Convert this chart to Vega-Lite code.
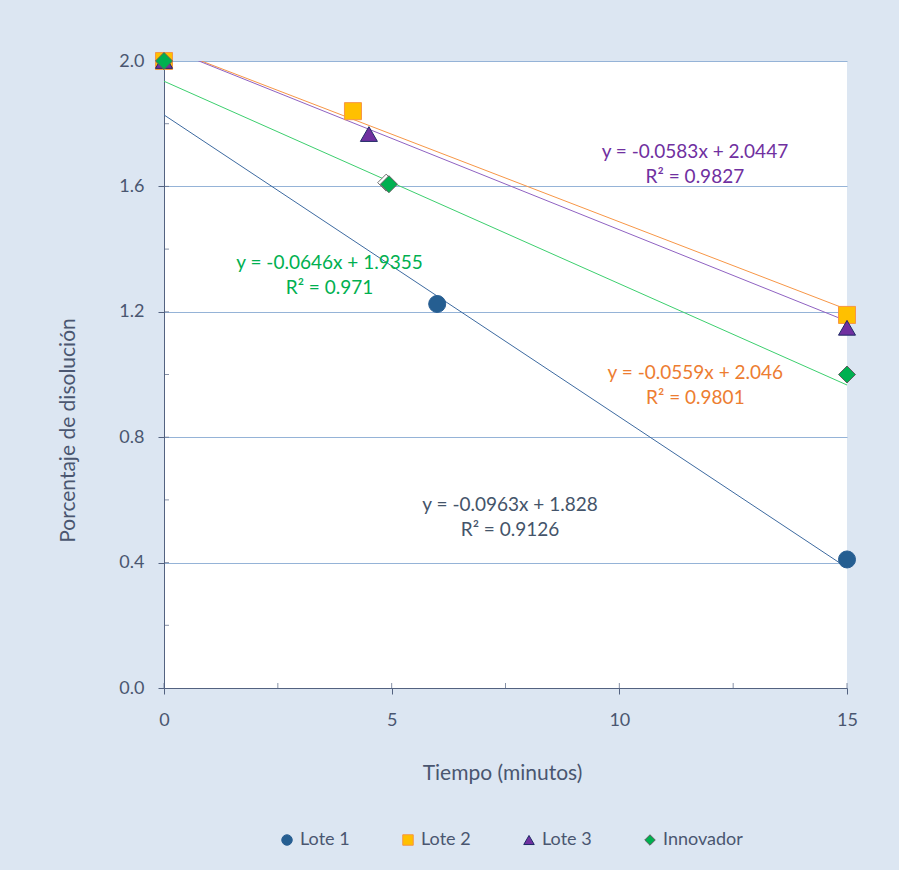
{
  "$schema": "https://vega.github.io/schema/vega-lite/v6.json",
  "width": 683,
  "height": 627,
  "autosize": {"type": "none"},
  "padding": {"left": 164, "top": 61, "right": 52, "bottom": 182},
  "background": "#dce6f2",
  "config": {
    "view": {"stroke": null, "fill": "#ffffff"},
    "font": "Lato",
    "axis": {
      "domainColor": "#536280",
      "tickColor": "#536280",
      "tickSize": 6,
      "labelFont": "Lato",
      "labelFontSize": 18,
      "labelColor": "#4a5670",
      "titleFont": "Lato",
      "titleFontSize": 21,
      "titleFontWeight": "normal",
      "titleColor": "#4a5670"
    },
    "axisX": {"grid": false, "labelPadding": 17, "labelFlush": false, "titleX": 338, "titleY": 85, "titleBaseline": "middle"},
    "axisY": {"grid": true, "gridColor": "#95b3d7", "gridWidth": 1, "labelPadding": 14, "titleX": -96, "titleY": 369, "titleAngle": -90, "titleAlign": "center", "titleBaseline": "middle"},
    "legend": {"padding": 0, "orient": "none", "legendX": 114, "legendY": 770, "direction": "horizontal", "symbolSize": 110, "symbolStrokeWidth": 1, "labelFontSize": 18, "labelFont": "Lato", "labelColor": "#4a5670", "labelOffset": 4, "columnPadding": 49}
  },
  "datasets": {
    "points": [
      {"series": "Lote 1", "x": 6, "y": 1.225},
      {"series": "Lote 1", "x": 15, "y": 0.41},
      {"series": "Lote 2", "x": 0, "y": 2.0},
      {"series": "Lote 2", "x": 4.15, "y": 1.84},
      {"series": "Lote 2", "x": 15, "y": 1.19},
      {"series": "Lote 3", "x": 0, "y": 2.0},
      {"series": "Lote 3", "x": 4.5, "y": 1.767},
      {"series": "Lote 3", "x": 15, "y": 1.149},
      {"series": "Innovador", "x": 0, "y": 2.0},
      {"series": "Innovador", "x": 4.94, "y": 1.607},
      {"series": "Innovador", "x": 15, "y": 1.0}
    ],
    "ghost": [
      {"x": 4.88, "y": 1.612}
    ],
    "trend": [
      {"series": "Lote 1", "x": 0, "y": 1.828},
      {"series": "Lote 1", "x": 15, "y": 0.3835},
      {"series": "Lote 2", "x": 0, "y": 2.046},
      {"series": "Lote 2", "x": 15, "y": 1.2075},
      {"series": "Lote 3", "x": 0, "y": 2.0447},
      {"series": "Lote 3", "x": 15, "y": 1.1702},
      {"series": "Innovador", "x": 0, "y": 1.9355},
      {"series": "Innovador", "x": 15, "y": 0.9665}
    ],
    "labels": [
      {"series": "Lote 3", "x": 11.66, "y": 1.71, "text": "y = -0.0583x + 2.0447"},
      {"series": "Lote 3", "x": 11.66, "y": 1.63, "text": "R² = 0.9827"},
      {"series": "Innovador", "x": 3.635, "y": 1.356, "text": "y = -0.0646x + 1.9355"},
      {"series": "Innovador", "x": 3.635, "y": 1.276, "text": "R² = 0.971"},
      {"series": "Lote 2", "x": 11.67, "y": 1.005, "text": "y = -0.0559x + 2.046"},
      {"series": "Lote 2", "x": 11.67, "y": 0.925, "text": "R² = 0.9801"},
      {"series": "Lote 1", "x": 7.6, "y": 0.584, "text": "y = -0.0963x + 1.828"},
      {"series": "Lote 1", "x": 7.6, "y": 0.504, "text": "R² = 0.9126"}
    ],
    "xticks": [{"x": 0}, {"x": 2.5}, {"x": 5}, {"x": 7.5}, {"x": 10}, {"x": 12.5}, {"x": 15}],
    "yticks": [{"y": 0.2}, {"y": 0.4}, {"y": 0.6}, {"y": 0.8}, {"y": 1.0}, {"y": 1.2}, {"y": 1.4}, {"y": 1.6}, {"y": 1.8}]
  },
  "layer": [
    {
      "data": {"name": "trend"},
      "mark": {"type": "line", "clip": true, "strokeWidth": 1},
      "encoding": {
        "x": {"field": "x", "type": "quantitative", "scale": {"domain": [0, 15], "nice": false, "zero": false}, "axis": {"title": "Tiempo (minutos)", "values": [0, 5, 10, 15]}},
        "y": {"field": "y", "type": "quantitative", "scale": {"domain": [0, 2], "nice": false, "zero": false}, "axis": {"title": "Porcentaje de disolución", "values": [0, 0.4, 0.8, 1.2, 1.6, 2.0], "format": ".1f"}},
        "color": {"field": "series", "type": "nominal", "scale": {"domain": ["Lote 1", "Lote 2", "Lote 3", "Innovador"], "range": ["#3d6aa0", "#f79646", "#8f62c2", "#3ccf6e"]}, "legend": null},
        "detail": {"field": "series"}
      }
    },
    {
      "data": {"name": "xticks"},
      "mark": {"type": "tick", "orient": "vertical", "size": 5, "thickness": 1, "yOffset": -2.5, "color": "#536280"},
      "encoding": {
        "x": {"field": "x", "type": "quantitative", "axis": {"title": "Tiempo (minutos)", "values": [0, 5, 10, 15]}},
        "y": {"datum": 0, "type": "quantitative", "axis": {"title": "Porcentaje de disolución", "values": [0, 0.4, 0.8, 1.2, 1.6, 2.0], "format": ".1f"}}
      }
    },
    {
      "data": {"name": "yticks"},
      "mark": {"type": "tick", "orient": "horizontal", "size": 5, "thickness": 1, "xOffset": 2.5, "color": "#536280"},
      "encoding": {
        "x": {"datum": 0, "type": "quantitative", "axis": {"title": "Tiempo (minutos)", "values": [0, 5, 10, 15]}},
        "y": {"field": "y", "type": "quantitative", "axis": {"title": "Porcentaje de disolución", "values": [0, 0.4, 0.8, 1.2, 1.6, 2.0], "format": ".1f"}}
      }
    },
    {
      "data": {"name": "ghost"},
      "mark": {"type": "point", "shape": "diamond", "filled": true, "fill": "#ffffff", "stroke": "#6f6f6f", "strokeWidth": 1, "size": 289, "opacity": 1},
      "encoding": {
        "x": {"field": "x", "type": "quantitative", "axis": {"title": "Tiempo (minutos)", "values": [0, 5, 10, 15]}},
        "y": {"field": "y", "type": "quantitative", "axis": {"title": "Porcentaje de disolución", "values": [0, 0.4, 0.8, 1.2, 1.6, 2.0], "format": ".1f"}}
      }
    },
    {
      "data": {"name": "points"},
      "mark": {"type": "point", "filled": true, "size": 290, "opacity": 1, "strokeWidth": 1},
      "encoding": {
        "x": {"field": "x", "type": "quantitative", "axis": {"title": "Tiempo (minutos)", "values": [0, 5, 10, 15]}},
        "y": {"field": "y", "type": "quantitative", "axis": {"title": "Porcentaje de disolución", "values": [0, 0.4, 0.8, 1.2, 1.6, 2.0], "format": ".1f"}},
        "fill": {"field": "series", "type": "nominal", "title": null, "scale": {"domain": ["Lote 1", "Lote 2", "Lote 3", "Innovador"], "range": ["#255e91", "#ffc000", "#7030a0", "#00b050"]}},
        "shape": {"field": "series", "type": "nominal", "title": null, "scale": {"domain": ["Lote 1", "Lote 2", "Lote 3", "Innovador"], "range": ["circle", "square", "triangle-up", "diamond"]}},
        "stroke": {"field": "series", "type": "nominal", "title": null, "scale": {"domain": ["Lote 1", "Lote 2", "Lote 3", "Innovador"], "range": ["#2a5f94", "#f79646", "#1f2a66", "#5f5f5f"]}}
      }
    },
    {
      "data": {"name": "labels"},
      "mark": {"type": "text", "font": "Lato", "fontSize": 19, "align": "center", "baseline": "middle"},
      "encoding": {
        "x": {"field": "x", "type": "quantitative", "axis": {"title": "Tiempo (minutos)", "values": [0, 5, 10, 15]}},
        "y": {"field": "y", "type": "quantitative", "axis": {"title": "Porcentaje de disolución", "values": [0, 0.4, 0.8, 1.2, 1.6, 2.0], "format": ".1f"}},
        "text": {"field": "text"},
        "color": {"field": "series", "type": "nominal", "scale": {"domain": ["Lote 1", "Lote 2", "Lote 3", "Innovador"], "range": ["#44546a", "#ed7d31", "#7030a0", "#00b050"]}, "legend": null}
      }
    }
  ],
  "resolve": {"scale": {"color": "independent"}}
}
